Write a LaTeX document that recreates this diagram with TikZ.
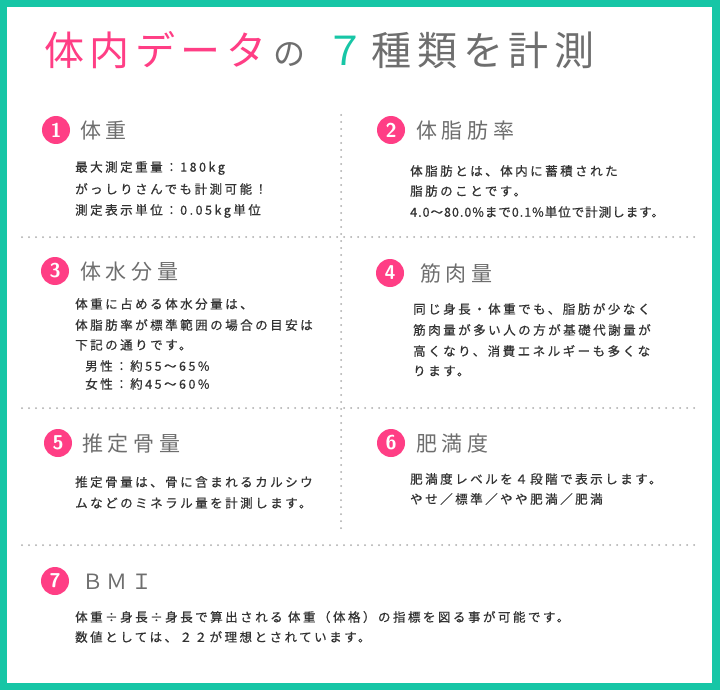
\documentclass[tikz,border=0pt]{standalone}
\usepackage{fontspec}
\setmainfont{Noto Sans CJK JP}
\newfontfamily\bodyf[LetterSpace=20,FakeBold=0.6]{Noto Sans CJK JP}
\newfontfamily\bodyg[LetterSpace=8,FakeBold=0.6]{Noto Sans CJK JP}
\newfontfamily\headf[LetterSpace=22]{Noto Sans CJK JP}
\newfontfamily\titlef[LetterSpace=14]{Noto Sans CJK JP}
\definecolor{teal1}{HTML}{17C6A6}
\definecolor{pink1}{HTML}{FF3E85}
\definecolor{txt}{HTML}{333333}
\definecolor{head}{HTML}{6E6E6E}
\definecolor{dots}{HTML}{AAAAAA}
\tikzset{
 num/.style={circle,fill=pink1,text=white,minimum size=28pt,inner sep=0pt,font=\fontsize{20}{20}\selectfont\bfseries\sffamily},
 hd/.style={anchor=west,text=head,inner sep=0pt,font=\headf\fontsize{21}{21}\selectfont},
 bd/.style={anchor=west,text=txt,inner sep=0pt,font=\bodyf\fontsize{12.5}{12.5}\selectfont},
 dl/.style={dots,line width=2pt,line cap=round,dash pattern=on 0pt off 7pt}
}
\begin{document}
\begin{tikzpicture}[x=1pt,y=-1pt]
\useasboundingbox (0,0) rectangle (720,690);
\fill[teal1] (0,0) rectangle (720,690);
\fill[white] (7,7) rectangle (712,683);
\node[anchor=west,inner sep=0pt,font=\titlef\fontsize{40}{40}\selectfont] (title) at (44,50)
 {\textcolor{pink1}{体内データ}\,\textcolor{head}{\fontsize{32}{32}\selectfont の}\enspace\textcolor{teal1}{７}\,\textcolor{head}{種類を計測}};
\coordinate (v1) at (341,115); \coordinate (v2) at (341,532);
\draw[dl] (v1) -- (v2);
\foreach \yy/\n in {237/a,408/b,545/c}{
 \coordinate (h\n1) at (22,\yy); \coordinate (h\n2) at (700,\yy);
 \draw[dl] (h\n1) -- (h\n2);}
% 1
\node[num] (n1) at (56,130) {1};
\node[hd] (h1) at (80,131) {体重};
\node[bd] (b1a) at (75,168) {最大測定重量：180kg};
\node[bd] (b1b) at (75,189) {がっしりさんでも計測可能！};
\node[bd] (b1c) at (75,211) {測定表示単位：0.05kg単位};
% 2
\node[num] (n2) at (391,130) {2};
\node[hd] (h2) at (416,131) {体脂肪率};
\node[bd] (b2a) at (410,171) {体脂肪とは、体内に蓄積された};
\node[bd] (b2b) at (410,191) {脂肪のことです。};
\node[bd,font=\bodyg\fontsize{12.5}{12.5}\selectfont] (b2c) at (410,212) {4.0～80.0\%まで0.1\%単位で計測します。};
% 3
\node[num] (n3) at (55,271) {3};
\node[hd] (h3) at (80,272) {体水分量};
\node[bd] (b3a) at (75,304) {体重に占める体水分量は、};
\node[bd] (b3b) at (75,325) {体脂肪率が標準範囲の場合の目安は};
\node[bd] (b3c) at (75,345) {下記の通りです。};
\node[bd] (b3d) at (85,366) {男性：約55～65\%};
\node[bd] (b3e) at (85,384) {女性：約45～60\%};
% 4
\node[num] (n4) at (390,273) {4};
\node[hd] (h4) at (420,274) {筋肉量};
\node[bd] (b4a) at (413,309) {同じ身長・体重でも、脂肪が少なく};
\node[bd] (b4b) at (413,330) {筋肉量が多い人の方が基礎代謝量が};
\node[bd] (b4c) at (413,351) {高くなり、消費エネルギーも多くな};
\node[bd] (b4d) at (413,371) {ります。};
% 5
\node[num] (n5) at (58,443) {5};
\node[hd] (h5) at (82,444) {推定骨量};
\node[bd] (b5a) at (75,482) {推定骨量は、骨に含まれるカルシウ};
\node[bd] (b5b) at (75,503) {ムなどのミネラル量を計測します。};
% 6
\node[num] (n6) at (391,443) {6};
\node[hd] (h6) at (416,444) {肥満度};
\node[bd] (b6a) at (410,479) {肥満度レベルを４段階で表示します。};
\node[bd] (b6b) at (410,499) {やせ／標準／やや肥満／肥満};
% 7
\node[num] (n7) at (55,581) {7};
\node[hd] (h7) at (82,582) {Ｂ\,Ｍ\,Ｉ};
\node[bd] (b7a) at (75,617) {体重÷身長÷身長で算出される 体重（体格）の指標を図る事が可能です。};
\node[bd] (b7b) at (75,637) {数値としては、２２が理想とされています。};
\end{tikzpicture}
\end{document}
